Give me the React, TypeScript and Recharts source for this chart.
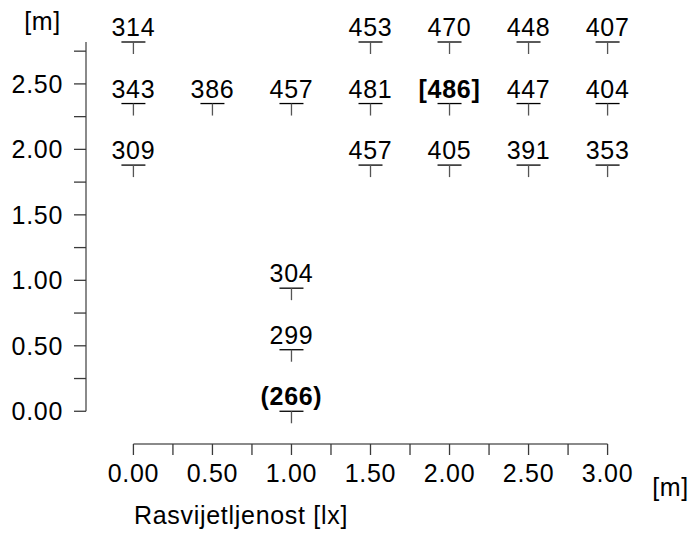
import React from "react"
import { ScatterChart, Scatter, XAxis, YAxis, ReferenceLine, Label } from "recharts"

// measurement grid, one array per row (y in metres)
const rowY = [2.82, 2.35, 1.88, 0.94, 0.47, 0]
const rowX = [
    [0, 1.5, 2, 2.5, 3],
    [0, 0.5, 1, 1.5, 2, 2.5, 3],
    [0, 1.5, 2, 2.5, 3],
    [1],
    [1],
    [1],
]
const rowLux = [
    [314, 453, 470, 448, 407],
    [343, 386, 457, 481, 486, 447, 404],
    [309, 457, 405, 391, 353],
    [304],
    [299],
    [266],
]

const xTicks = [0, 0.25, 0.5, 0.75, 1, 1.25, 1.5, 1.75, 2, 2.25, 2.5, 2.75, 3]
const yTicks = [0, 0.25, 0.5, 0.75, 1, 1.25, 1.5, 1.75, 2, 2.25, 2.5, 2.75]

const points = rowY.flatMap((y, r) => rowX[r].map((x, i) => ({ x, y, lux: rowLux[r][i] })))
const maxLux = Math.max(...points.map((p) => p.lux))
const minLux = Math.min(...points.map((p) => p.lux))

const FONT = "'Liberation Sans', Arial, sans-serif"
const FS = 25
const LS = 0.7
const AXIS = "#8a8a8a"
const TICK = "#3a3a3a"

const fmt = (v: number) => (Math.abs(v * 2 - Math.round(v * 2)) < 1e-6 ? v.toFixed(2) : "")

function Marker(props: any) {
    const { cx, cy, payload } = props
    const v = payload.lux
    const bold = v === maxLux || v === minLux
    const text = v === maxLux ? `[${v}]` : v === minLux ? `(${v})` : `${v}`
    return (
        <g>
            <text x={cx} y={cy - 6} textAnchor="middle" fontFamily={FONT} fontSize={FS} letterSpacing={LS} fontWeight={bold ? "bold" : "normal"} fill="#000">
                {text}
            </text>
            <line x1={cx - 12} y1={cy} x2={cx + 12} y2={cy} stroke="#000" strokeWidth={1.3} />
            <line x1={cx} y1={cy} x2={cx} y2={cy + 12} stroke="#555" strokeWidth={1.3} />
        </g>
    )
}

export default function App() {
    return (
        <div style={{ position: "absolute", left: 0, top: 0, background: "#fff" }}>
            <ScatterChart width={692} height={533} margin={{ top: 42, right: 37, bottom: 59, left: 26 }}>
                <XAxis
                    type="number"
                    dataKey="x"
                    domain={[-0.3, 3.3]}
                    ticks={xTicks}
                    tickFormatter={fmt}
                    axisLine={false}
                    tickSize={11}
                    tickMargin={9}
                    height={30}
                    interval={0}
                    tickLine={{ stroke: TICK, strokeWidth: 1.3 }}
                    tick={{ fill: "#000", fontSize: FS, fontFamily: FONT, letterSpacing: LS }}
                >
                    <Label
                        content={() => (
                            <g fontFamily={FONT} fontSize={FS} fill="#000" letterSpacing={LS}>
                                <text x={134} y={524}>Rasvijetljenost [lx]</text>
                                <text x={689} y={496} textAnchor="end">[m]</text>
                            </g>
                        )}
                    />
                </XAxis>
                <YAxis
                    type="number"
                    dataKey="y"
                    domain={[-0.25, 2.82]}
                    ticks={yTicks}
                    tickFormatter={fmt}
                    axisLine={false}
                    tickSize={12}
                    tickMargin={11}
                    width={60}
                    interval={0}
                    tickLine={{ stroke: TICK, strokeWidth: 1.3 }}
                    tick={{ fill: "#000", fontSize: FS, fontFamily: FONT, letterSpacing: LS }}
                >
                    <Label
                        content={() => (
                            <text x={61} y={30} textAnchor="end" fontFamily={FONT} fontSize={FS} letterSpacing={LS} fill="#000">
                                [m]
                            </text>
                        )}
                    />
                </YAxis>
                <ReferenceLine segment={[{ x: -0.3, y: 0 }, { x: -0.3, y: 2.82 }]} stroke={AXIS} strokeWidth={2} ifOverflow="visible" />
                <ReferenceLine segment={[{ x: 0, y: -0.25 }, { x: 3, y: -0.25 }]} stroke={AXIS} strokeWidth={2} ifOverflow="visible" />
                <Scatter data={points} shape={<Marker />} isAnimationActive={false} />
            </ScatterChart>
        </div>
    )
}
